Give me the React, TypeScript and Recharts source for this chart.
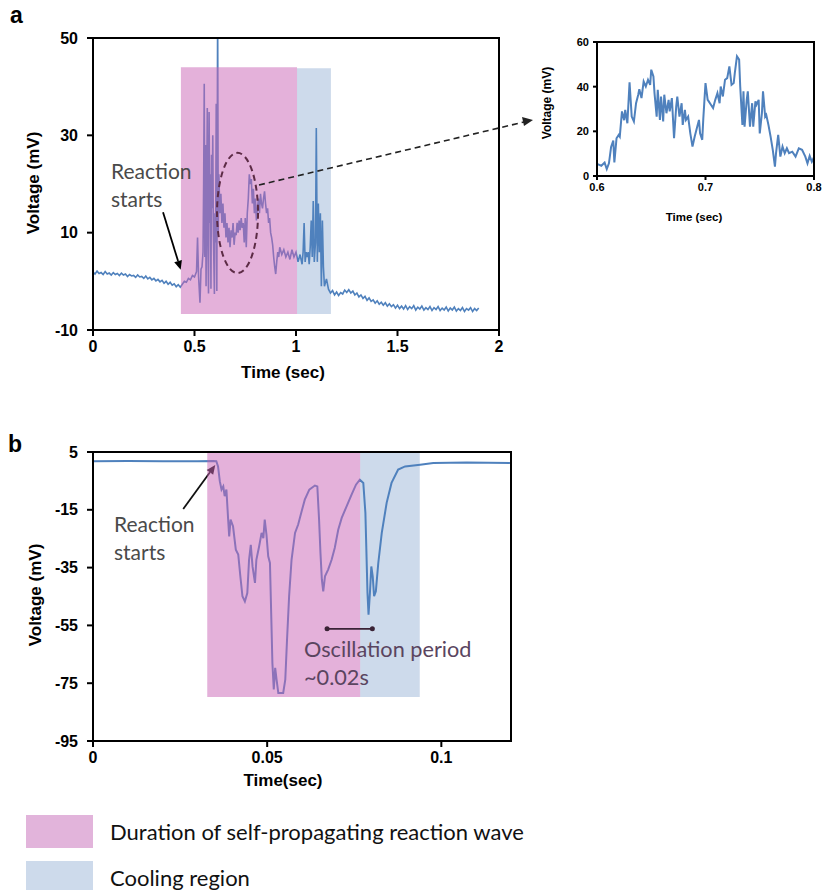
import React from 'react';
import { LineChart, Line, XAxis, YAxis, ReferenceArea, ReferenceLine, ReferenceDot } from 'recharts';

// panel a: full voltage trace (sec, mV)
const timeA = [
  0, 0.01, 0.02, 0.03, 0.04, 0.05, 0.06, 0.07, 0.08, 0.09, 0.1, 0.11, 0.12, 0.13, 0.14, 0.15, 0.16, 0.17, 0.18, 0.19,
  0.2, 0.21, 0.22, 0.23, 0.24, 0.25, 0.26, 0.27, 0.28, 0.29, 0.3, 0.31, 0.32, 0.33, 0.34, 0.35, 0.36, 0.37, 0.38, 0.39,
  0.4, 0.41, 0.42, 0.43, 0.44, 0.45, 0.46, 0.47, 0.48, 0.49, 0.5,
  0.51, 0.515, 0.52, 0.527, 0.532, 0.537, 0.542, 0.545, 0.548, 0.551, 0.554, 0.557, 0.56, 0.563,
  0.566, 0.569, 0.572, 0.575, 0.578, 0.581, 0.584, 0.587, 0.59, 0.593, 0.598, 0.601, 0.604, 0.607, 0.61, 0.614, 0.617,
  0.62, 0.625, 0.63, 0.635, 0.64, 0.645, 0.65, 0.655, 0.66, 0.665, 0.67, 0.675, 0.68, 0.685, 0.69, 0.695, 0.7, 0.705,
  0.71, 0.715, 0.72, 0.725, 0.73, 0.735, 0.74, 0.745, 0.75, 0.755, 0.76, 0.765, 0.77, 0.775, 0.78, 0.785, 0.79, 0.795,
  0.8, 0.805, 0.81, 0.815, 0.82, 0.825, 0.83, 0.835, 0.84, 0.845, 0.85, 0.855, 0.86, 0.865, 0.87, 0.875, 0.88, 0.885,
  0.89, 0.895, 0.9, 0.905, 0.91, 0.915, 0.92, 0.93, 0.94, 0.95, 0.96, 0.97, 0.98, 0.99, 1.0, 1.01, 1.02, 1.03, 1.035,
  1.04, 1.045, 1.05, 1.055, 1.06, 1.065, 1.07, 1.075, 1.08, 1.085, 1.09, 1.096, 1.1, 1.105, 1.11, 1.115, 1.12, 1.125,
  1.13, 1.135, 1.14, 1.15, 1.16, 1.17, 1.18, 1.19, 1.2, 1.21, 1.22, 1.23, 1.24, 1.25, 1.26, 1.27, 1.28, 1.29,
  1.3, 1.31, 1.32, 1.33, 1.34, 1.35, 1.36, 1.37, 1.38, 1.39, 1.4, 1.41, 1.42, 1.43, 1.44, 1.45, 1.46, 1.47, 1.48, 1.49,
  1.5, 1.51, 1.52, 1.53, 1.54, 1.55, 1.56, 1.57, 1.58, 1.59, 1.6, 1.61, 1.62, 1.63, 1.64, 1.65, 1.66, 1.67, 1.68, 1.69,
  1.7, 1.71, 1.72, 1.73, 1.74, 1.75, 1.76, 1.77, 1.78, 1.79, 1.8, 1.81, 1.82, 1.83, 1.84, 1.85, 1.86, 1.87, 1.88, 1.89,
  1.9,
];
const voltA = [
  1.9, 1.5, 2.1, 1.6, 1.8, 1.4, 2.0, 1.5, 1.7, 1.3, 1.8, 1.4, 1.6, 1.2, 1.7, 1.3, 1.5, 1.0, 1.4, 1.1,
  1.2, 0.8, 1.3, 0.9, 1.0, 0.6, 1.1, 0.5, 0.8, 0.3, 0.6, 0.1, 0.4, -0.1, 0.2, -0.4, 0.0, -0.6, -0.2, -0.8,
  -0.5, -1.1, -0.7, -1.2, -0.6, 0.0, -0.2, 0.6, 0.3, 1.2, 0.9,
  2.0, 9.0, 1.0, -4.4, 2.5, 3.0, 6.0, 20.0, 40.6, 5.0, 28.0, -1.0, 18.0, 35.6,
  8.0, -2.5, 34.8, 12.0, 22.0, -1.5, 26.0, 15.0, 30.0, 10.0, -2.6, 14.0, 8.0, 36.5, -2.0, 56.0, 10.0,
  22.0, 14.0, 18.0, 12.0, 16.0, 11.0, 14.0, 9.0, 12.0, 8.0, 11.0, 7.0, 10.5, 9.0, 12.0, 7.5, 10.0, 9.5, 12.0,
  10.0, 12.5, 10.5, 13.0, 11.0, 12.0, 8.0, 13.0, 7.0, 14.0, 17.0, 22.0, 20.0, 21.0, 16.0, 19.0, 14.0, 17.0,
  12.5, 15.0, 17.0, 14.0, 18.0, 16.0, 15.0, 17.0, 18.5, 16.0, 14.0, 15.0, 12.0, 13.0, 10.0, 9.0, 7.5, 5.0,
  3.0, 1.5, 4.0, 6.0, 5.0, 7.0, 5.5, 6.5, 5.0, 6.0, 4.5, 6.5, 5.0, 6.0, 4.0, 5.5, 3.5, 6.0, 12.0,
  4.0, 6.0, 5.0, 6.0, 3.5, 7.0, 12.5, 5.0, 16.5, 4.0, 8.0, 31.5, 4.0, 16.0, 6.0, 14.0, -1.0, 12.5,
  3.0, -1.0, 0.5, -1.6, -2.4, -1.9, -2.8, -2.2, -2.9, -2.3, -2.6, -1.8, -2.3, -1.7, -2.4, -2.0, -2.8, -2.4,
  -3.2, -2.8, -3.5, -3.1, -3.9, -3.4, -4.1, -3.8, -4.5, -4.0, -4.7, -4.3, -4.9, -4.4, -5.1, -4.6, -5.2, -4.8, -5.5, -4.9,
  -5.6, -5.1, -5.7, -5.0, -5.8, -5.2, -5.6, -5.0, -5.9, -5.3, -5.7, -5.1, -5.9, -5.4, -5.8, -5.2, -6.0, -5.4, -5.8, -5.2,
  -6.0, -5.5, -5.9, -5.3, -6.1, -5.5, -5.9, -5.3, -6.1, -5.6, -6.0, -5.4, -6.2, -5.6, -5.9, -5.4, -6.2, -5.6, -6.0, -5.5,
  -5.9,
];

// inset: zoom of 0.6 - 0.8 sec
const timeInset = [
  0.6, 0.604, 0.607, 0.609, 0.611, 0.613, 0.615, 0.616, 0.618, 0.62, 0.621, 0.623, 0.625, 0.626, 0.628, 0.63, 0.632,
  0.634, 0.636, 0.638, 0.639, 0.641, 0.643, 0.645, 0.647, 0.649, 0.65, 0.652, 0.653, 0.655, 0.656, 0.658, 0.659,
  0.661, 0.662, 0.664, 0.666, 0.667, 0.669, 0.671, 0.673, 0.674, 0.676, 0.678, 0.679, 0.681, 0.682, 0.684, 0.686,
  0.688, 0.69, 0.692, 0.694, 0.695, 0.697, 0.698, 0.7, 0.702, 0.703, 0.705, 0.707, 0.709, 0.711, 0.713, 0.714, 0.716,
  0.718, 0.72, 0.722, 0.724, 0.726, 0.727, 0.729, 0.731, 0.732, 0.734, 0.735, 0.736, 0.738, 0.739, 0.741, 0.743,
  0.744, 0.746, 0.747, 0.749, 0.75, 0.752, 0.753, 0.755, 0.756, 0.758, 0.76, 0.762, 0.764, 0.765, 0.767, 0.769,
  0.771, 0.773, 0.775, 0.777, 0.78, 0.783, 0.786, 0.789, 0.792, 0.794, 0.796, 0.798, 0.8,
];
const voltInset = [
  5.4, 4.6, 6.0, 3.1, 5.7, 13.0, 15.9, 6.1, 16.9, 18.4, 17.6, 28.9, 25.0, 29.6, 23.6, 41.9, 26.6,
  24.4, 32.6, 36.4, 38.9, 34.9, 42.3, 40.1, 43.1, 40.8, 47.6, 44.6, 37.1, 26.6, 38.6, 25.1, 35.6,
  24.4, 36.4, 28.1, 34.1, 28.9, 34.9, 16.9, 31.1, 35.6, 26.6, 32.6, 22.9, 29.6, 25.1, 26.6, 19.1,
  13.2, 17.6, 21.4, 25.1, 19.1, 16.2, 25.9, 41.6, 34.1, 33.4, 31.9, 30.4, 34.1, 37.1, 32.6, 40.1, 35.6,
  43.1, 43.8, 49.1, 40.8, 41.6, 46.1, 53.6, 52.1, 40.1, 22.9, 37.9, 22.1, 34.1, 37.9, 22.1, 32.6,
  22.1, 33.4, 31.9, 34.1, 19.1, 28.1, 37.9, 26.6, 27.4, 22.9, 17.6, 11.7, 4.2, 10.2, 18.4, 8.7,
  13.2, 10.2, 12.4, 10.2, 10.9, 8.7, 12.4, 11.7, 8.7, 5.7, 9.0, 6.4, 8.4,
];

// panel b: single reaction event
const timeB = [
  0, 0.01, 0.02, 0.03, 0.0345, 0.0354, 0.0359, 0.0364, 0.0369, 0.0374, 0.0378, 0.0383, 0.0388, 0.0391, 0.0395, 0.0402,
  0.041, 0.0417, 0.0423, 0.0429, 0.0436, 0.0443, 0.0448, 0.0453, 0.0458, 0.0465, 0.0469, 0.0477, 0.0484, 0.0489,
  0.0493, 0.0498, 0.0503, 0.0508, 0.0512, 0.0515, 0.0519, 0.0523, 0.0527, 0.0532, 0.0546, 0.0552, 0.0557, 0.0563,
  0.057, 0.058, 0.0589, 0.0599, 0.0608, 0.0621, 0.0637, 0.0644, 0.0649, 0.0653, 0.0657, 0.0661, 0.0666, 0.0675,
  0.0685, 0.0694, 0.0704, 0.0714, 0.0728, 0.0742, 0.0755, 0.0766, 0.0776, 0.0782, 0.0785, 0.0788, 0.0791, 0.0795,
  0.0799, 0.0803, 0.0807, 0.0812, 0.0819, 0.0829, 0.0843, 0.0857, 0.0876, 0.0896, 0.0939, 0.0977, 0.1073, 0.1197,
];
const voltB = [
  1.8, 1.9, 1.8, 1.8, 1.9, 1.8, 0.0, -5.1, -8.0, -6.9, -10.3, -8.0, -18.4, -24.2, -18.4, -20.7,
  -28.8, -30.5, -38.0, -44.9, -46.7, -43.8, -32.3, -27.1, -34.6, -40.3, -32.3, -27.6, -23.0, -24.8,
  -18.4, -23.6, -31.1, -33.4, -53.0, -68.0, -77.2, -69.7, -73.8, -78.4, -78.4, -73.8, -60.0, -44.9,
  -32.3, -23.0, -20.1, -15.5, -11.5, -8.0, -6.6, -6.9, -18.4, -29.9, -39.2, -43.2, -38.0, -35.7,
  -32.3, -28.2, -21.9, -17.8, -13.8, -9.8, -6.3, -4.6, -5.7, -16.1, -29.9, -43.8, -51.3, -43.8,
  -34.6, -38.0, -44.9, -43.2, -33.4, -23.0, -12.6, -5.7, -1.1, 0.0, 0.6, 1.2, 1.4, 1.2,
];

const dataA = timeA.map((t, i) => ({ t, v: voltA[i] }));
const dataInset = timeInset.map((t, i) => ({ t, v: voltInset[i] }));
const dataB = timeB.map((t, i) => ({ t, v: voltB[i] }));

// shaded regions [start, end, bottom, top]
const reactionA = [0.433, 1.005, -6.7, 44.0];
const coolingA = [1.005, 1.172, -6.7, 43.8];
const reactionB = [0.0328, 0.0767, -79.8, 5];
const coolingB = [0.0767, 0.0938, -79.8, 5];

const LINE_BLUE = '#4f81bd';
const PINK = '#c964b6';
const LIGHT_BLUE = '#9bb5d8';
const ARIAL = '"Liberation Sans", Arial, sans-serif';
const CALIBRI = 'Lato, "Open Sans", sans-serif';

const tickStyle = { fill: '#000', fontSize: 16, fontWeight: 700, fontFamily: ARIAL };
const axisStyle = { stroke: '#000', strokeWidth: 2 };

function Arrow(props: any) {
  const { x1, y1, x2, y2, color, headColor } = props;
  const ang = Math.atan2(y2 - y1, x2 - x1);
  const len = 9;
  const w = 4;
  const bx = x2 - len * Math.cos(ang);
  const by = y2 - len * Math.sin(ang);
  const p1 = `${bx + w * Math.sin(ang)},${by - w * Math.cos(ang)}`;
  const p2 = `${bx - w * Math.sin(ang)},${by + w * Math.cos(ang)}`;
  return (
    <g>
      <line x1={x1} y1={y1} x2={bx} y2={by} stroke={color} strokeWidth={1.8} />
      <polygon points={`${x2},${y2} ${p1} ${p2}`} fill={headColor || color} />
    </g>
  );
}

function Ellipse(props: any) {
  const { x, y, width, height } = props;
  return (
    <ellipse
      cx={x + width / 2}
      cy={y + height / 2}
      rx={width / 2}
      ry={height / 2}
      fill="none"
      stroke="#5c2b45"
      strokeWidth={2}
      strokeDasharray="6 4"
    />
  );
}

function PanelA() {
  return (
    <LineChart width={520} height={400} data={dataA} margin={{ top: 38, right: 21, bottom: 40, left: 33 }}>
      <XAxis
        dataKey="t"
        type="number"
        domain={[0, 2]}
        ticks={[0, 0.5, 1, 1.5, 2]}
        tick={tickStyle}
        tickSize={6}
        tickMargin={5}
        axisLine={axisStyle}
        tickLine={axisStyle}
        height={30}
      />
      <YAxis
        type="number"
        domain={[-10, 50]}
        ticks={[-10, 10, 30, 50]}
        allowDataOverflow
        tick={tickStyle}
        tickSize={6}
        tickMargin={9}
        axisLine={axisStyle}
        tickLine={axisStyle}
        width={60}
      />
      <ReferenceArea x1={coolingA[0]} x2={coolingA[1]} y1={coolingA[2]} y2={coolingA[3]} fill={LIGHT_BLUE} fillOpacity={0.5} stroke="none" zIndex={50} />
      <Line dataKey="v" stroke={LINE_BLUE} strokeWidth={1.6} dot={false} isAnimationActive={false} />
      <ReferenceArea x1={reactionA[0]} x2={reactionA[1]} y1={reactionA[2]} y2={reactionA[3]} fill={PINK} fillOpacity={0.5} stroke="none" zIndex={450} />
      <ReferenceArea x1={0.611} x2={0.813} y1={1.7} y2={26.4} shape={<Ellipse />} zIndex={460} />
      <ReferenceLine
        segment={[{ x: 0.345, y: 14.2 }, { x: 0.432, y: 2.4 }]}
        shape={(p: any) => <Arrow {...p} color="#000" />}
        zIndex={460}
      />
      <ReferenceArea x1={0} x2={2} y1={-10} y2={50} fill="none" stroke="#000" strokeWidth={2} zIndex={500} />
    </LineChart>
  );
}

function Inset() {
  const small = { fill: '#000', fontSize: 11, fontWeight: 700, fontFamily: ARIAL };
  return (
    <LineChart width={304} height={220} data={dataInset} margin={{ top: 22, right: 10, bottom: 44, left: 37 }}>
      <XAxis
        dataKey="t"
        type="number"
        domain={[0.6, 0.8]}
        ticks={[0.6, 0.7, 0.8]}
        tick={small}
        tickSize={4}
        tickMargin={3}
        axisLine={axisStyle}
        tickLine={axisStyle}
        height={20}
      />
      <YAxis
        type="number"
        domain={[0, 60]}
        ticks={[0, 20, 40, 60]}
        tick={small}
        tickSize={4}
        tickMargin={4}
        axisLine={axisStyle}
        tickLine={axisStyle}
        width={40}
      />
      <Line dataKey="v" stroke={LINE_BLUE} strokeWidth={2} dot={false} isAnimationActive={false} />
      <ReferenceArea x1={0.6} x2={0.8} y1={0} y2={60} fill="none" stroke="#000" strokeWidth={2} zIndex={500} />
    </LineChart>
  );
}

function PanelB() {
  return (
    <LineChart width={520} height={380} data={dataB} margin={{ top: 32, right: 9, bottom: 29, left: 33 }}>
      <XAxis
        dataKey="t"
        type="number"
        domain={[0, 0.12]}
        ticks={[0, 0.05, 0.1]}
        tick={tickStyle}
        tickSize={6}
        tickMargin={5}
        axisLine={axisStyle}
        tickLine={axisStyle}
        height={30}
      />
      <YAxis
        type="number"
        domain={[-95, 5]}
        ticks={[-95, -75, -55, -35, -15, 5]}
        tick={tickStyle}
        tickSize={6}
        tickMargin={9}
        axisLine={axisStyle}
        tickLine={axisStyle}
        width={60}
      />
      <ReferenceArea x1={coolingB[0]} x2={coolingB[1]} y1={coolingB[2]} y2={coolingB[3]} fill={LIGHT_BLUE} fillOpacity={0.5} stroke="none" zIndex={50} />
      <ReferenceLine
        segment={[{ x: 0.0259, y: -14.7 }, { x: 0.0351, y: 0.5 }]}
        shape={(p: any) => <Arrow {...p} color="#111" />}
        zIndex={300}
      />
      <Line dataKey="v" stroke={LINE_BLUE} strokeWidth={2} dot={false} isAnimationActive={false} />
      <ReferenceArea x1={reactionB[0]} x2={reactionB[1]} y1={reactionB[2]} y2={reactionB[3]} fill={PINK} fillOpacity={0.5} stroke="none" zIndex={450} />
      <ReferenceArea x1={0} x2={0.12} y1={-95} y2={5} fill="none" stroke="#000" strokeWidth={2} zIndex={500} />
      <ReferenceLine segment={[{ x: 0.0672, y: -56.2 }, { x: 0.0802, y: -56.2 }]} stroke="#3a2336" strokeWidth={1.8} zIndex={460} />
      <ReferenceDot x={0.0672} y={-56.2} r={2.5} fill="#3a2336" stroke="none" zIndex={470} />
      <ReferenceDot x={0.0802} y={-56.2} r={2.5} fill="#3a2336" stroke="none" zIndex={470} />
    </LineChart>
  );
}

export default function App() {
  const bold = { fontFamily: ARIAL, fontWeight: 700, fill: '#000' };
  const note = { fontFamily: CALIBRI, fontSize: 21, fill: '#4a4a4a' };
  const legendText = { position: 'absolute' as const, left: 110, fontFamily: CALIBRI, fontSize: 22, color: '#111', lineHeight: '28px', whiteSpace: 'nowrap' as const };
  return (
    <div style={{ position: 'absolute', left: 0, top: 0, width: 824, height: 890, background: '#fff', overflow: 'hidden', fontFamily: ARIAL }}>
      <div style={{ position: 'absolute', left: 0, top: 0 }}>
        <PanelA />
      </div>
      <div style={{ position: 'absolute', left: 520, top: 20 }}>
        <Inset />
      </div>
      <div style={{ position: 'absolute', left: 0, top: 420 }}>
        <PanelB />
      </div>
      <svg width={824} height={890} style={{ position: 'absolute', left: 0, top: 0, pointerEvents: 'none' }}>
        <text x={10} y={23} fontSize={23} {...bold}>a</text>
        <text x={8} y={452} fontSize={23} {...bold}>b</text>
        <text x={33} y={183} fontSize={17} textAnchor="middle" dominantBaseline="central" transform="rotate(-90 33 183)" {...bold}>Voltage (mV)</text>
        <text x={283} y={372} fontSize={17} textAnchor="middle" dominantBaseline="central" {...bold}>Time (sec)</text>
        <text x={547} y={103} fontSize={12} textAnchor="middle" dominantBaseline="central" transform="rotate(-90 547 103)" {...bold}>Voltage (mV)</text>
        <text x={694} y={217} fontSize={11.5} textAnchor="middle" dominantBaseline="central" {...bold}>Time (sec)</text>
        <text x={35} y={595} fontSize={17} textAnchor="middle" dominantBaseline="central" transform="rotate(-90 35 595)" {...bold}>Voltage (mV)</text>
        <text x={283} y={780} fontSize={17} textAnchor="middle" dominantBaseline="central" {...bold}>Time(sec)</text>
        <text x={111} y={179} {...note}>Reaction</text>
        <text x={111} y={207} {...note}>starts</text>
        <text x={114} y={532} {...note}>Reaction</text>
        <text x={114} y={560} {...note}>starts</text>
        <text x={304} y={657} {...note} fontSize={21.7} fill="#5a4560">Oscillation period</text>
        <text x={304} y={685} {...note} fontSize={21.7} fill="#5a4560">~0.02s</text>
        <line x1={259} y1={185} x2={524} y2={122} stroke="#222" strokeWidth={1.6} strokeDasharray="6 4" />
        <polygon points="533,120 522,117 524,126" fill="#222" />
      </svg>
      <div style={{ position: 'absolute', left: 26, top: 815, width: 67, height: 33, background: '#e2b4db' }} />
      <div style={{ position: 'absolute', left: 26, top: 861, width: 67, height: 29, background: '#cddaeb' }} />
      <div style={{ ...legendText, top: 818 }}>Duration of self-propagating reaction wave</div>
      <div style={{ ...legendText, top: 864 }}>Cooling region</div>
    </div>
  );
}
